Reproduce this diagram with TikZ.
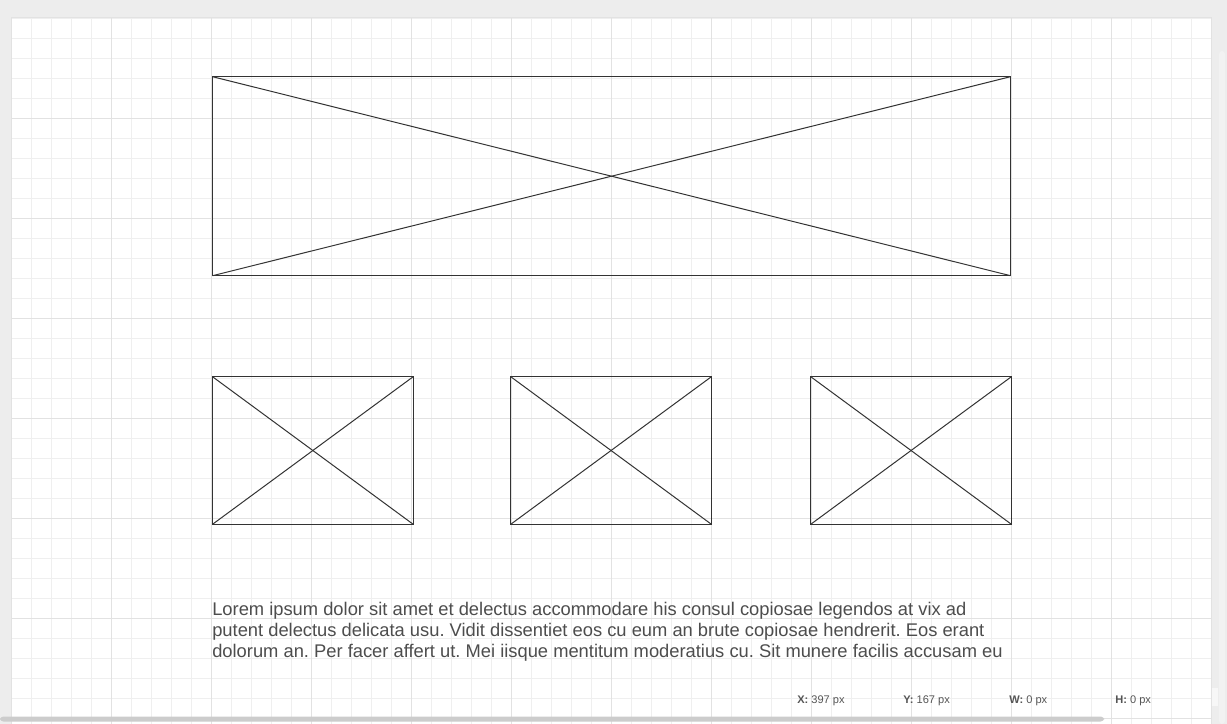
\documentclass[tikz,border=0pt]{standalone}
\usepackage{fontspec}
\setmainfont{Liberation Sans}
\frenchspacing
\definecolor{pagebg}{HTML}{EDEDED}
\definecolor{minorgrid}{HTML}{EFEFEF}
\definecolor{majorgrid}{HTML}{E2E2E2}
\definecolor{wireline}{HTML}{333333}
\definecolor{bodytext}{HTML}{4D4D4D}
\definecolor{statustext}{HTML}{555555}
\tikzset{
  wire/.style={draw=wireline, line width=0.75pt},
  bodyline/.style={anchor=base west, inner sep=0pt, text=bodytext,
    font=\fontsize{13.75pt}{15.75pt}\selectfont},
  statuslabel/.style={anchor=base west, inner sep=0pt, text=statustext,
    font=\fontsize{8.3pt}{10pt}\selectfont}
}
\begin{document}
\begin{tikzpicture}[x=0.75pt,y=-0.75pt]
\useasboundingbox (0,0) rectangle (1227,724);
\fill[pagebg] (0,0) rectangle (1227,724);
% canvas
\fill[white] (11,18) rectangle (1211,724);
\begin{scope}
\clip (11,18) rectangle (1211,724);
\foreach \gx in {11.7,31.7,...,1211} \draw[minorgrid, line width=0.75pt] (\gx,18) -- (\gx,724);
\foreach \gy in {18.3,38.3,...,724} \draw[minorgrid, line width=0.75pt] (11,\gy) -- (1211,\gy);
\foreach \gx in {111.7,211.7,...,1211} \draw[majorgrid, line width=0.75pt] (\gx,18) -- (\gx,724);
\foreach \gy in {118.3,218.3,...,724} \draw[majorgrid, line width=0.75pt] (11,\gy) -- (1211,\gy);
\end{scope}
\draw[majorgrid, line width=0.75pt] (11,724) -- (11,18) -- (1211,18) -- (1211,724);
% banner image
\draw[wire] (212.5,76.7) rectangle (1010.5,275.7);
\draw[wire] (212.5,76.7) -- (1010.5,275.7);
\draw[wire] (212.5,275.7) -- (1010.5,76.7);
% three thumbnails
\foreach \bx in {212.5,510.7,810.7} {
  \draw[wire] (\bx,376.7) rectangle ++(200.7,147.6);
  \draw[wire] (\bx,376.7) -- ++(200.7,147.6);
  \draw[wire] (\bx,524.3) -- ++(200.7,-147.6);
}
% paragraph
\node[bodyline] (line1) at (212,615.5) {Lorem ipsum dolor sit amet et delectus accommodare his consul copiosae legendos at vix ad};
\node[bodyline] (line2) at (212,636.5) {putent delectus delicata usu. Vidit dissentiet eos cu eum an brute copiosae hendrerit. Eos erant};
\node[bodyline] (line3) at (212,657.5) {dolorum an. Per facer affert ut. Mei iisque mentitum moderatius cu. Sit munere facilis accusam eu};
% status bar
\fill[white, opacity=0.6] (1212,688) rectangle (1218,706);
\node[statuslabel] (posx) at (797,703) {\textbf{X:} 397 px};
\node[statuslabel] (posy) at (903,703) {\textbf{Y:} 167 px};
\node[statuslabel] (sizew) at (1009,703) {\textbf{W:} 0 px};
\node[statuslabel] (sizeh) at (1115,703) {\textbf{H:} 0 px};
% scrollbars
\fill[black!20, rounded corners=2.5pt] (0,716.5) rectangle (1104,721.5);
\fill[black!5, rounded corners=2.5pt] (1219,51) rectangle (1225,724);
\end{tikzpicture}
\end{document}
